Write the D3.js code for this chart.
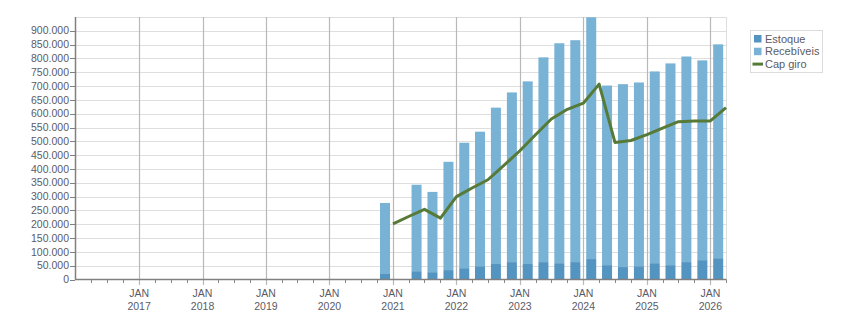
<!DOCTYPE html>
<html><head><meta charset="utf-8">
<script src="https://cdn.jsdelivr.net/npm/d3@7"></script>
<style>
body{margin:0;background:#fff;}
svg{display:block;font-family:"Liberation Sans",Arial,sans-serif;}
</style></head>
<body><svg id="c" width="851" height="313"></svg>
<script>
// quarter end month (bar = that quarter; line point = first day after quarter)
const quarters = ["2020-12","2021-06","2021-09","2021-12","2022-03","2022-06","2022-09","2022-12","2023-03","2023-06","2023-09","2023-12","2024-03","2024-06","2024-09","2024-12","2025-03","2025-06","2025-09","2025-12","2026-03"];
const estoque = [20000,30000,26500,34000,41000,48000,56000,63000,56000,63000,59000,63000,74000,52000,45000,48000,59000,52000,63000,70000,77000];
const totals  = [277000,343000,317000,426000,495000,535000,622000,677000,717000,804000,855000,866000,949000,702000,707000,713000,753000,782000,807000,793000,851000];
const recebiveis = totals.map((t,i)=>t-estoque[i]);
const capDates = ["2021-01","2021-04","2021-07","2021-10","2022-01","2022-04","2022-07","2022-10","2023-01","2023-04","2023-07","2023-10","2024-01","2024-04","2024-07","2024-10","2025-01","2025-04","2025-07","2025-10","2026-01","2026-04"];
const capGiro = [201000,228000,254000,222000,300000,331000,361000,413000,466000,524000,581000,616000,638000,707000,496000,503000,524000,548000,571000,574000,574000,622000];
const yTicks = d3.range(0, 950001, 50000);
const seriesNames = ["Estoque","Recebíveis","Cap giro"];
const colors = {est:"#5494c1", rec:"#78b2d4", cap:"#587a38"};

const svg = d3.select("#c");
const parseM = d3.timeParse("%Y-%m");
const x = d3.scaleTime().domain([new Date(2016,0,1), new Date(2026,3,1)]).range([75.5, 726]);
const y = d3.scaleLinear().domain([0, 950000]).range([279.5, 17]);
const loc = d3.formatLocale({decimal:",", thousands:".", grouping:[3], currency:["",""]});
const fmt = loc.format(",d");
const txt = "#5b5b66";

// horizontal grid
svg.append("g").selectAll("line").data(yTicks.filter(d=>d>0)).join("line")
  .attr("x1",75.5).attr("x2",726).attr("y1",d=>Math.round(y(d))+0.5).attr("y2",d=>Math.round(y(d))+0.5)
  .attr("stroke","#dedede").attr("stroke-width",1);
// right border
svg.append("line").attr("x1",726.5).attr("x2",726.5).attr("y1",17).attr("y2",279.5).attr("stroke","#dedede");

// vertical Jan lines
const years = d3.timeYear.range(new Date(2017,0,1), new Date(2026,1,1));
svg.append("g").selectAll("line").data(years).join("line")
  .attr("x1",d=>Math.round(x(d))+0.5).attr("x2",d=>Math.round(x(d))+0.5)
  .attr("y1",17).attr("y2",285).attr("stroke","#b8b8b8").attr("stroke-width",1.2);

// bars
const bw = 10;
const bars = quarters.map((q,i)=>{
  const end = d3.timeMonth.offset(parseM(q),1);
  const start = d3.timeMonth.offset(end,-3);
  return {cx:(x(start)+x(end))/2, est:estoque[i], rec:recebiveis[i]};
});
const g = svg.append("g");
g.selectAll(".r").data(bars).join("rect")
  .attr("x",d=>d.cx-bw/2).attr("width",bw)
  .attr("y",d=>y(d.est+d.rec)).attr("height",d=>y(d.est)-y(d.est+d.rec))
  .attr("fill",colors.rec);
g.selectAll(".e").data(bars).join("rect")
  .attr("x",d=>d.cx-bw/2).attr("width",bw)
  .attr("y",d=>y(d.est)).attr("height",d=>y(0)-y(d.est))
  .attr("fill",colors.est);

// line
const pts = capDates.map((d,i)=>[x(parseM(d)), y(capGiro[i])]);
svg.append("path").attr("d", d3.line()(pts)).attr("fill","none")
  .attr("stroke",colors.cap).attr("stroke-width",3).attr("stroke-linejoin","round");

// x axis minor ticks
const quartersTicks = d3.timeMonth.every(3).range(new Date(2016,3,1), new Date(2026,3,2)).filter(d=>d.getMonth()!==0);
svg.append("g").selectAll("line").data(quartersTicks).join("line")
  .attr("x1",d=>Math.round(x(d))+0.5).attr("x2",d=>Math.round(x(d))+0.5)
  .attr("y1",279.5).attr("y2",283).attr("stroke","#888");
// axes lines
svg.append("line").attr("x1",75).attr("x2",726.5).attr("y1",279.5).attr("y2",279.5).attr("stroke","#808080").attr("stroke-width",1.5);
svg.append("line").attr("x1",75.5).attr("x2",75.5).attr("y1",17).attr("y2",280).attr("stroke","#808080").attr("stroke-width",1.5);

// y labels
const yl = svg.append("g");
yl.selectAll("line").data(yTicks.filter(d=>d<=900000)).join("line")
  .attr("x1",70).attr("x2",75).attr("y1",d=>Math.round(y(d))+0.5).attr("y2",d=>Math.round(y(d))+0.5).attr("stroke","#808080");
yl.selectAll("text").data(yTicks.filter(d=>d<=900000)).join("text")
  .attr("x",69).attr("y",d=>y(d)).attr("dy","0.35em").attr("text-anchor","end")
  .attr("font-size","10.5px").attr("fill",txt).text(d=>fmt(d));

// x labels
const xl = svg.append("g").selectAll("text").data(years).join("text")
  .attr("text-anchor","middle").attr("font-size","10.5px").attr("fill",txt);
xl.append("tspan").attr("x",d=>x(d)).attr("y",297).text("JAN");
xl.append("tspan").attr("x",d=>x(d)).attr("y",310).text(d=>d3.timeFormat("%Y")(d));

// legend
const lg = svg.append("g");
lg.append("rect").attr("x",750.5).attr("y",30.5).attr("width",72).attr("height",42).attr("fill","#fff").attr("stroke","#dcdcdc");
const rows = [{n:seriesNames[0],c:colors.est,t:"sq"},{n:seriesNames[1],c:colors.rec,t:"sq"},{n:seriesNames[2],c:colors.cap,t:"ln"}];
rows.forEach((r,i)=>{
  const cy = 38.7 + i*12.7;
  if(r.t==="sq") lg.append("rect").attr("x",754).attr("y",cy-3.7).attr("width",7.5).attr("height",7.5).attr("fill",r.c);
  else lg.append("line").attr("x1",752.5).attr("x2",763).attr("y1",cy).attr("y2",cy).attr("stroke",r.c).attr("stroke-width",3);
  lg.append("text").attr("x",765).attr("y",cy).attr("dy","0.35em").attr("font-size","11px").attr("fill",txt).text(r.n);
});
</script></body></html>
